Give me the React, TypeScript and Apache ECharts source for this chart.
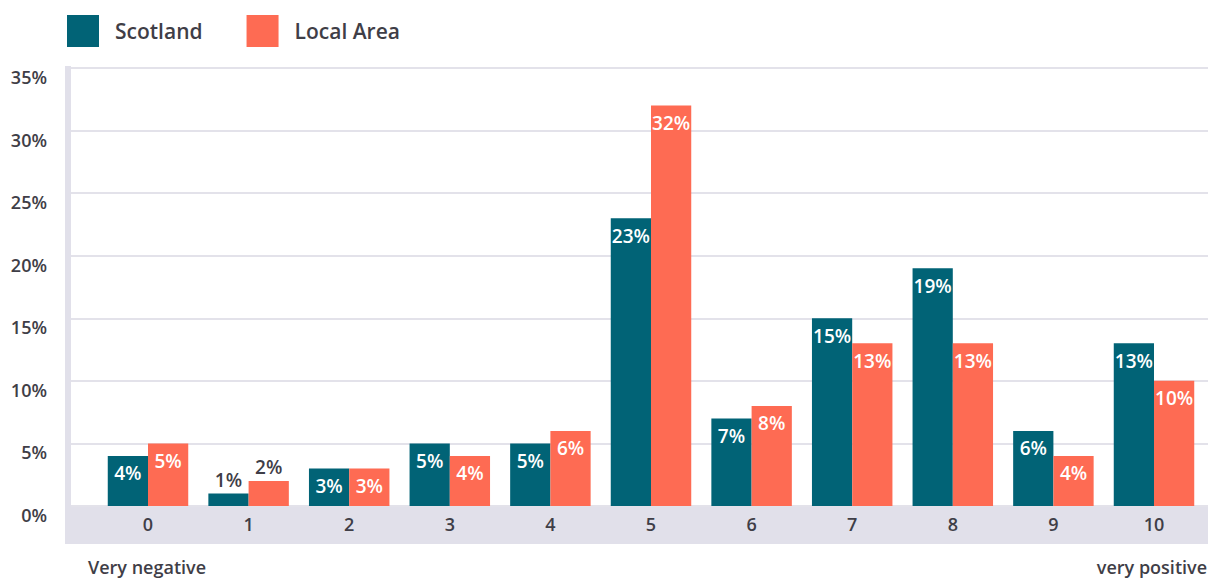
import React, { useEffect, useRef } from "react";
import * as echarts from "echarts";

const categories = ["0", "1", "2", "3", "4", "5", "6", "7", "8", "9", "10"];
const scotland = [4, 1, 3, 5, 5, 23, 7, 15, 19, 6, 13];
const localArea = [5, 2, 3, 4, 6, 32, 8, 13, 13, 4, 10];
const seriesNames = ["Scotland", "Local Area"];
const yTicks = [0, 5, 10, 15, 20, 25, 30, 35];
const leftNote = "Very negative";
const rightNote = "very positive";

const FONT = "'Open Sans', 'Noto Sans', sans-serif";
const TEXT = "#3f3e47";
const TEAL = "#016376";
const CORAL = "#fe6b53";
const GRIDC = "#e3e2ea";
const BAND = "#e1e0ea";

function makeData(vals: number[]) {
  return vals.map((v) =>
    v <= 2
      ? { value: v, label: { position: "top", distance: 4, color: TEXT } }
      : { value: v }
  );
}

export default function App() {
  const ref = useRef<HTMLDivElement>(null);
  useEffect(() => {
    const chart = echarts.init(ref.current!, null, { renderer: "svg" });
    const label = {
      show: true,
      position: "insideTop",
      distance: 8,
      color: "#ffffff",
      fontFamily: FONT,
      fontWeight: 600,
      fontSize: 19,
      formatter: "{c}%",
    };
    chart.setOption({
      animation: false,
      backgroundColor: "#ffffff",
      textStyle: { fontFamily: FONT },
      legend: {
        left: 62,
        top: 10,
        itemWidth: 32,
        itemHeight: 32,
        itemGap: 44,
        icon: "rect",
        data: seriesNames,
        textStyle: {
          color: TEXT,
          fontSize: 21,
          fontWeight: 600,
          fontFamily: FONT,
          padding: [0, 0, 0, 11],
        },
      },
      grid: [
        { left: 71, right: 0, top: 68, bottom: 73 },
        { left: 97.7, right: 3.7, top: 68, bottom: 73 },
      ],
      xAxis: [
        {
          gridIndex: 0,
          type: "value",
          min: 0,
          max: 1,
          show: false,
        },
        {
          gridIndex: 1,
          type: "category",
          data: categories,
          axisLine: { show: false },
          axisTick: { show: false },
          axisLabel: {
            color: TEXT,
            fontSize: 18,
            fontWeight: 600,
            fontFamily: FONT,
            margin: 9,
          },
        },
      ],
      yAxis: [
        {
          gridIndex: 0,
          type: "value",
          min: yTicks[0],
          max: yTicks[yTicks.length - 1],
          interval: 5,
          axisLine: { show: false },
          axisTick: { show: false },
          splitLine: { lineStyle: { color: GRIDC, width: 2 } },
          axisLabel: {
            color: TEXT,
            fontSize: 18,
            fontWeight: 600,
            fontFamily: FONT,
            margin: 24,
            verticalAlign: "top",
            formatter: "{value}%",
          },
        },
        {
          gridIndex: 1,
          type: "value",
          min: yTicks[0],
          max: yTicks[yTicks.length - 1],
          interval: 5,
          show: false,
        },
      ],
      series: [
        {
          name: seriesNames[0],
          type: "bar",
          xAxisIndex: 1,
          yAxisIndex: 1,
          data: makeData(scotland),
          itemStyle: { color: TEAL },
          barGap: "0%",
          barCategoryGap: "20%",
          label,
          z: 3,
        },
        {
          name: seriesNames[1],
          type: "bar",
          xAxisIndex: 1,
          yAxisIndex: 1,
          data: makeData(localArea),
          itemStyle: { color: CORAL },
          barGap: "0%",
          barCategoryGap: "20%",
          label,
          z: 3,
        },
      ],
      graphic: [
        {
          type: "rect",
          left: 65,
          top: 66,
          shape: { width: 6, height: 440 },
          style: { fill: BAND },
          z: 1,
        },
        {
          type: "rect",
          left: 65,
          top: 506,
          shape: { width: 1143, height: 38 },
          style: { fill: BAND },
          z: 0,
        },
        {
          type: "text",
          left: 88,
          top: 558,
          style: {
            text: leftNote,
            fill: TEXT,
            font: `600 18px ${FONT}`,
          },
        },
        {
          type: "text",
          right: 1,
          top: 558,
          style: {
            text: rightNote,
            fill: TEXT,
            font: `600 18px ${FONT}`,
          },
        },
      ],
    });
    return () => chart.dispose();
  }, []);
  return (
    <div
      ref={ref}
      style={{ position: "fixed", left: 0, top: 0, width: 1208, height: 579 }}
    />
  );
}
